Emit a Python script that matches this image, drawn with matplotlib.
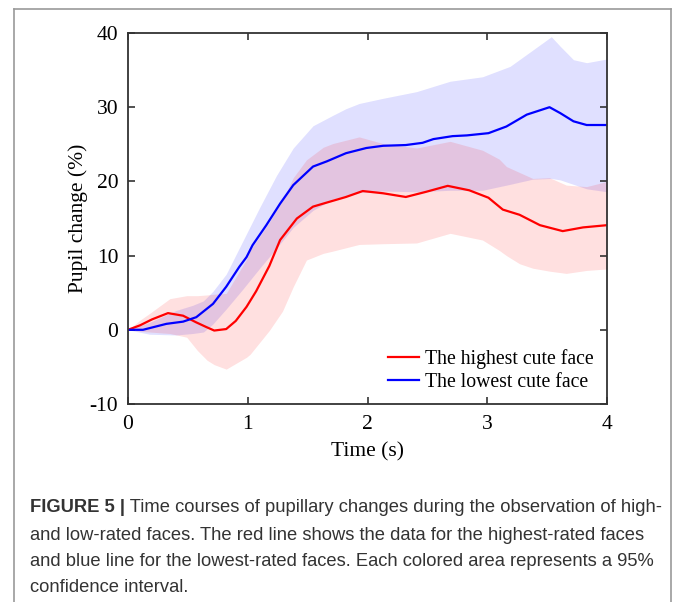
import matplotlib
matplotlib.use('Agg')
import matplotlib.pyplot as plt
from matplotlib.lines import Line2D

plt.rcParams['axes.unicode_minus'] = False

# time points (s) and values (%)
t_hi = [0, 0.1, 0.2, 0.334, 0.46, 0.57, 0.65, 0.72, 0.82, 0.9, 0.99, 1.07, 1.18, 1.27,
        1.41, 1.545, 1.65, 1.82, 1.96, 2.13, 2.32, 2.49, 2.67, 2.85, 3.01, 3.13,
        3.27, 3.44, 3.63, 3.80, 4.0]
hi_mean = [0, 0.6, 1.4, 2.25, 1.9, 1.0, 0.4, -0.1, 0.1, 1.2, 3.1, 5.2, 8.6, 12.1,
           15.0, 16.6, 17.1, 17.9, 18.7, 18.4, 17.9, 18.6, 19.4, 18.8, 17.8, 16.2,
           15.5, 14.1, 13.3, 13.8, 14.1]

t_hi_ci = [0, 0.1, 0.18, 0.35, 0.49, 0.58, 0.66, 0.72, 0.82, 0.99, 1.02, 1.18, 1.29,
           1.38, 1.49, 1.63, 1.71, 1.93, 2.13, 2.41, 2.69, 2.96, 3.10, 3.16, 3.27,
           3.38, 3.52, 3.66, 3.83, 4.0]
hi_upper = [0, 1.3, 2.2, 4.2, 4.6, 4.6, 4.7, 4.8, 4.9, 9.5, 10.7, 14.5, 17.5,
            20.5, 22.9, 24.6, 25.1, 26.0, 25.1, 24.5, 25.4, 24.2, 23.0, 22.0, 21.2,
            20.4, 20.5, 19.5, 19.3, 20.0]
hi_lower = [0, -0.2, -0.3, -0.5, -1.0, -2.8, -4.1, -4.7, -5.3, -3.7, -3.3, -0.1, 2.5,
            5.8, 9.4, 10.3, 10.6, 11.5, 11.6, 11.7, 13.0, 12.1, 10.7, 10.0, 8.9,
            8.3, 7.9, 7.6, 8.0, 8.2]

t_lo = [0, 0.125, 0.32, 0.46, 0.57, 0.71, 0.82, 0.93, 0.99, 1.04, 1.155, 1.27, 1.38,
        1.545, 1.66, 1.82, 1.99, 2.13, 2.32, 2.46, 2.55, 2.71, 2.83, 3.01, 3.16,
        3.33, 3.52, 3.61, 3.72, 3.83, 4.0]
lo_mean = [0, 0.0, 0.8, 1.1, 1.7, 3.5, 5.8, 8.5, 9.8, 11.4, 14.1, 17.0, 19.5,
           22.0, 22.7, 23.8, 24.5, 24.8, 24.9, 25.2, 25.7, 26.1, 26.2, 26.5, 27.4,
           29.0, 30.0, 29.2, 28.1, 27.6, 27.6]

t_lo_ci = [0, 0.18, 0.40, 0.54, 0.63, 0.71, 0.82, 0.96, 1.10, 1.24, 1.38, 1.545, 1.71,
           1.82, 1.93, 2.13, 2.41, 2.69, 2.96, 3.19, 3.38, 3.535, 3.61, 3.72, 3.83, 4.0]
lo_upper = [0, 1.0, 2.6, 3.3, 3.9, 5.2, 7.5, 12.0, 16.5, 20.8, 24.5, 27.5, 28.9,
            29.8, 30.5, 31.2, 32.1, 33.5, 34.1, 35.5, 37.7, 39.5, 38.2, 36.4, 36.0, 36.5]
lo_lower = [0, -0.6, -0.7, -0.5, -0.3, 0.8, 2.8, 5.5, 8.3, 11.0, 13.8, 16.1, 17.6,
            18.1, 18.5, 18.7, 18.6, 18.8, 18.8, 19.6, 20.3, 20.4, 20.2, 19.6, 19.0, 18.6]

legend_labels = ['The highest cute face', 'The lowest cute face']
caption_bold = 'FIGURE 5 |'
caption_lines = [
    ' Time courses of pupillary changes during the observation of high-',
    'and low-rated faces. The red line shows the data for the highest-rated faces',
    'and blue line for the lowest-rated faces. Each colored area represents a 95%',
    'confidence interval.',
]

W, H = 673, 602
fig = plt.figure(figsize=(W / 100, H / 100), dpi=100)
serif = 'Liberation Serif'

ax = fig.add_axes([128 / W, 1 - 404 / H, (607 - 128) / W, (404 - 33) / H])
ax.fill_between(t_lo_ci, lo_lower, lo_upper, color='blue', alpha=0.12, linewidth=0)
ax.fill_between(t_hi_ci, hi_lower, hi_upper, color='red', alpha=0.12, linewidth=0)
ax.plot(t_hi, hi_mean, color='red', lw=1.6)
ax.plot(t_lo, lo_mean, color='blue', lw=1.6)

ax.set_xlim(0, 4)
ax.set_ylim(-10, 40)
ax.set_xticks([0, 1, 2, 3, 4])
ax.set_yticks([-10, 0, 10, 20, 30, 40])
ax.tick_params(direction='in', top=True, right=True, length=5, width=1.2,
               color='#333333', labelsize=15.5)
ax.tick_params(axis='x', pad=8)
ax.tick_params(axis='y', pad=7)
for lab in ax.get_xticklabels() + ax.get_yticklabels():
    lab.set_fontfamily(serif)
for sp in ax.spines.values():
    sp.set_linewidth(1.3)
    sp.set_color('#333333')

ax.set_xlabel('Time (s)', fontsize=15.5, family=serif)
ax.set_ylabel('Pupil change (%)', fontsize=15.5, family=serif)
ax.xaxis.set_label_coords(0.5, -0.103)
ax.yaxis.set_label_coords(-0.083, 0.5)

handles = [Line2D([], [], color='red', lw=1.6), Line2D([], [], color='blue', lw=1.6)]
ax.legend(handles, legend_labels, loc='lower right', frameon=False,
          prop={'family': serif, 'size': 14.2}, handlelength=1.55, handletextpad=0.3,
          labelspacing=0.2, borderaxespad=0.3, bbox_to_anchor=(1.0, -0.005))

# outer frame of the figure panel
frame_col = '#9a9a9a'
fig.add_artist(Line2D([14 / W, 14 / W], [0, 1 - 9 / H], color=frame_col, lw=1.2))
fig.add_artist(Line2D([14 / W, 671 / W], [1 - 9 / H, 1 - 9 / H], color=frame_col, lw=1.2))
fig.add_artist(Line2D([671 / W, 671 / W], [0, 1 - 9 / H], color=frame_col, lw=1.2))

# caption
cap_col = '#333333'
cap_font = 'Liberation Sans'
cap_size = 13.2
x0 = 30 / W
ys = [508, 535, 561, 587]
b = fig.text(x0, 1 - ys[0] / H, caption_bold, fontsize=cap_size, family=cap_font,
             weight='bold', color=cap_col, va='center')
fig.canvas.draw()
bb = b.get_window_extent(renderer=fig.canvas.get_renderer())
fig.text(bb.x1 / W, 1 - ys[0] / H, caption_lines[0], fontsize=cap_size,
         family=cap_font, color=cap_col, va='center')
for y, line in zip(ys[1:], caption_lines[1:]):
    fig.text(x0, 1 - y / H, line, fontsize=cap_size, family=cap_font,
             color=cap_col, va='center')

fig.savefig('out.png', dpi=100)
